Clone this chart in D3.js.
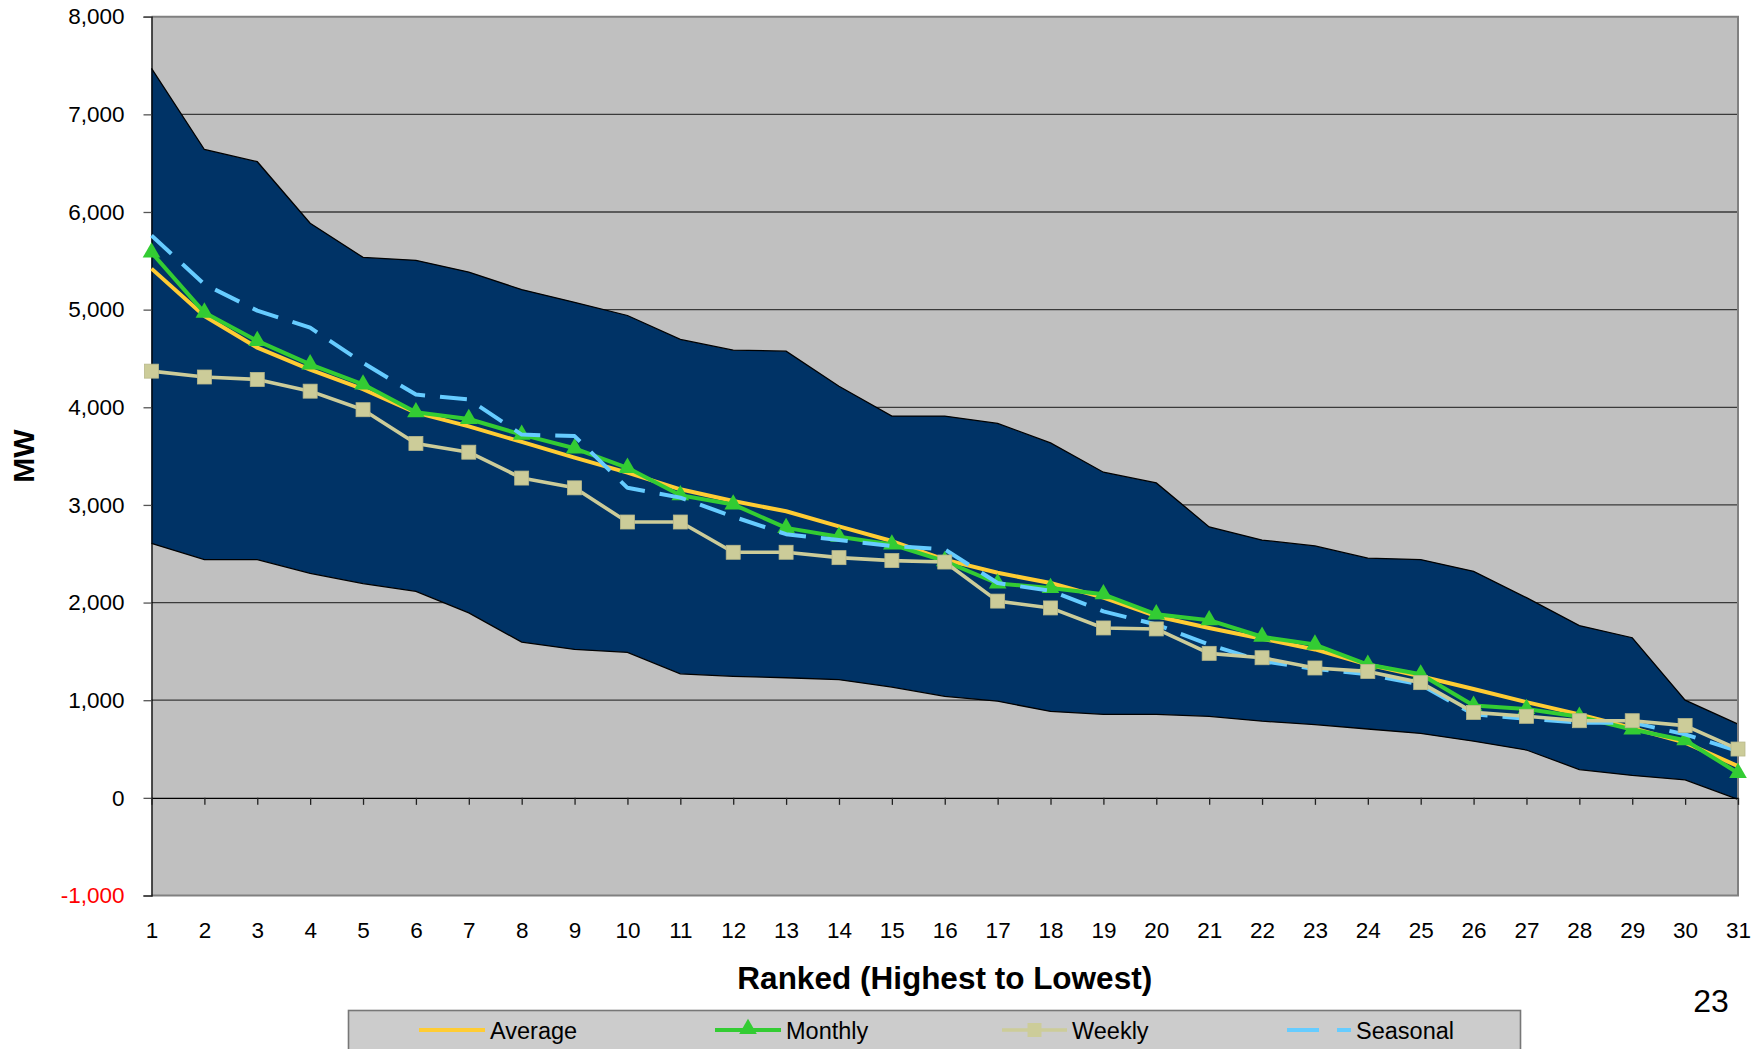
<!DOCTYPE html>
<html>
<head>
<meta charset="utf-8">
<script src="https://cdn.jsdelivr.net/npm/d3@7"></script>
<style>
  html, body { margin: 0; padding: 0; background: #ffffff; }
  svg { display: block; font-family: "Liberation Sans", Arial, sans-serif; }
</style>
</head>
<body>
<svg id="chart" width="1764" height="1049"></svg>
<script>
// Ranked daily values, highest to lowest (MW)
const ranks = [1,2,3,4,5,6,7,8,9,10,11,12,13,14,15,16,17,18,19,20,21,22,23,24,25,26,27,28,29,30,31];

// Envelope of the ranked values (upper and lower bound of the shaded band)
const upper = [7470, 6640, 6515, 5885, 5535, 5505, 5385, 5205, 5075, 4940, 4695, 4585, 4575, 4215, 3910, 3910,
               3835, 3635, 3335, 3225, 2775, 2640, 2580, 2455, 2440, 2320, 2050, 1765, 1640, 1000, 755];
const lower = [2605, 2440, 2440, 2300, 2195, 2115, 1895, 1595, 1520, 1490, 1270, 1245, 1230, 1210, 1135, 1040,
               990, 885, 855, 855, 835, 785, 750, 705, 660, 580, 490, 290, 230, 185, -15];

// Series
const average  = [5420, 4935, 4610, 4385, 4185, 3945, 3805, 3645, 3485, 3330, 3160, 3040, 2935, 2780, 2630, 2440,
                  2305, 2200, 2050, 1860, 1740, 1630, 1520, 1365, 1245, 1115, 980, 855, 715, 565, 325];
const monthly  = [5585, 4970, 4680, 4440, 4235, 3950, 3880, 3720, 3580, 3380, 3100, 3005, 2765, 2675, 2595, 2425,
                  2195, 2150, 2085, 1880, 1820, 1650, 1570, 1365, 1265, 945, 910, 830, 700, 590, 255];
const weekly   = [4370, 4310, 4285, 4165, 3975, 3630, 3540, 3275, 3175, 2825, 2825, 2515, 2515, 2460, 2430, 2415,
                  2015, 1945, 1740, 1730, 1480, 1435, 1330, 1295, 1180, 875, 835, 790, 790, 740, 500];
const seasonal = [5760, 5260, 4990, 4815, 4455, 4130, 4080, 3720, 3705, 3175, 3075, 2880, 2700, 2640, 2580, 2545,
                  2200, 2120, 1910, 1775, 1570, 1400, 1320, 1265, 1160, 855, 810, 770, 770, 650, 480];

const yTicks = [-1000, 0, 1000, 2000, 3000, 4000, 5000, 6000, 7000, 8000];
const seriesNames = ["Average", "Monthly", "Weekly", "Seasonal"];
const pageNumber = "23";

(function draw() {
  const svg = d3.select("#chart");
  const pLeft = 151.5, pRight = 1738, pTop = 16.7, pBottom = 895.5;

  const x = d3.scaleLinear().domain([1, 31]).range([pLeft, pRight]);
  const y = d3.scaleLinear().domain([-1000, 8000]).range([pBottom, pTop]);
  // thousands separator, plain hyphen for negatives
  const grouped = d3.format(",");
  const fmt = v => grouped(v).replace("\u2212", "-");

  // Plot background
  svg.append("rect")
    .attr("x", pLeft).attr("y", pTop)
    .attr("width", pRight - pLeft).attr("height", pBottom - pTop)
    .attr("fill", "#c0c0c0");

  // Horizontal gridlines
  svg.append("g").selectAll("line")
    .data(yTicks.filter(v => v > 0 && v < 8000))
    .join("line")
    .attr("x1", pLeft).attr("x2", pRight)
    .attr("y1", d => y(d)).attr("y2", d => y(d))
    .attr("stroke", "#3a3a3a").attr("stroke-width", 1.3);

  // Shaded band between lower and upper bound
  const band = ranks.map((r, i) => ({ r, lo: lower[i], hi: upper[i] }));
  svg.append("path")
    .datum(band)
    .attr("fill", "#003366")
    .attr("d", d3.area().x(d => x(d.r)).y0(d => y(d.lo)).y1(d => y(d.hi)));
  svg.append("path")
    .datum(band)
    .attr("fill", "none").attr("stroke", "#000").attr("stroke-width", 1.3)
    .attr("d", d3.line().x(d => x(d.r)).y(d => y(d.hi)));
  svg.append("path")
    .datum(band)
    .attr("fill", "none").attr("stroke", "#000").attr("stroke-width", 1.3)
    .attr("d", d3.line().x(d => x(d.r)).y(d => y(d.lo)));

  // Plot frame: top, right and bottom in grey
  svg.append("path")
    .attr("d", `M${pLeft},${y(8000)}H${pRight}V${y(-1000)}H${pLeft}`)
    .attr("fill", "none").attr("stroke", "#808080").attr("stroke-width", 2);

  // Y axis
  const yAxis = svg.append("g")
    .attr("transform", `translate(${pLeft},0)`)
    .call(d3.axisLeft(y).tickValues(yTicks).tickFormat(fmt).tickSize(8).tickPadding(19));
  yAxis.select(".domain").attr("stroke", "#000").attr("stroke-width", 1.3);
  yAxis.selectAll(".tick line").attr("stroke", "#555").attr("stroke-width", 1.3);
  yAxis.selectAll(".tick text")
    .attr("font-size", 22.5)
    .attr("font-family", "'Liberation Sans', Arial, sans-serif")
    .attr("fill", d => d < 0 ? "#ff0000" : "#000");

  // Zero line with category ticks
  const xAxis = svg.append("g")
    .attr("transform", `translate(0,${y(0)})`)
    .call(d3.axisBottom(x).tickValues(ranks).tickFormat("").tickSize(7).tickSizeOuter(0));
  xAxis.select(".domain").attr("stroke", "#000").attr("stroke-width", 1.3);
  xAxis.selectAll(".tick line").attr("stroke", "#222").attr("stroke-width", 1.3);

  // Category labels beneath the plot
  const xLabels = svg.append("g")
    .attr("transform", `translate(0,${pBottom})`)
    .call(d3.axisBottom(x).tickValues(ranks).tickFormat(d3.format("d")).tickSize(0).tickPadding(27));
  xLabels.select(".domain").remove();
  xLabels.selectAll(".tick text")
    .attr("font-size", 22.5)
    .attr("font-family", "'Liberation Sans', Arial, sans-serif")
    .attr("fill", "#000");

  // Axis titles
  svg.append("text")
    .attr("x", (pLeft + pRight) / 2).attr("y", 989)
    .attr("text-anchor", "middle")
    .attr("font-size", 31.5).attr("font-weight", "bold")
    .text("Ranked (Highest to Lowest)");
  svg.append("text")
    .attr("transform", `translate(34,${(pTop + pBottom) / 2}) rotate(-90)`)
    .attr("text-anchor", "middle")
    .attr("font-size", 30).attr("font-weight", "bold")
    .text("MW");

  // Series lines
  const lineGen = d3.line().x((d, i) => x(ranks[i])).y(d => y(d));

  const styles = {
    Average:  { data: average,  color: "#ffcc33", width: 4, dash: null },
    Monthly:  { data: monthly,  color: "#33cc33", width: 4, dash: null },
    Seasonal: { data: seasonal, color: "#66ccff", width: 4, dash: "27,15" },
    Weekly:   { data: weekly,   color: "#cccc99", width: 3.6, dash: null }
  };

  ["Average", "Monthly", "Seasonal", "Weekly"].forEach(name => {
    const s = styles[name];
    svg.append("path")
      .datum(s.data)
      .attr("fill", "none")
      .attr("stroke", s.color)
      .attr("stroke-width", s.width)
      .attr("stroke-linejoin", "round")
      .attr("stroke-dasharray", s.dash)
      .attr("d", lineGen);
    if (name === "Monthly") {
      svg.append("g").selectAll("path")
        .data(s.data)
        .join("path")
        .attr("transform", (d, i) => `translate(${x(ranks[i])},${y(d)})`)
        .attr("d", d3.symbol(d3.symbolTriangle, 135))
        .attr("fill", s.color);
    }
    if (name === "Weekly") {
      svg.append("g").selectAll("rect")
        .data(s.data)
        .join("rect")
        .attr("x", (d, i) => x(ranks[i]) - 7)
        .attr("y", d => y(d) - 7)
        .attr("width", 14).attr("height", 14)
        .attr("fill", s.color)
        .attr("stroke", "#b9b98a").attr("stroke-width", 0.8);
    }
  });

  // Legend
  const legend = svg.append("g");
  legend.append("rect")
    .attr("x", 348.5).attr("y", 1010.5)
    .attr("width", 1172).attr("height", 60)
    .attr("fill", "#cccccc")
    .attr("stroke", "#777").attr("stroke-width", 1.6);

  const legendItems = [
    { name: seriesNames[0], x0: 419,  x1: 485 },
    { name: seriesNames[1], x0: 715,  x1: 781 },
    { name: seriesNames[2], x0: 1002, x1: 1067 },
    { name: seriesNames[3], x0: 1287, x1: 1351 }
  ];
  const ly = 1030;
  legendItems.forEach(it => {
    const s = styles[it.name];
    legend.append("line")
      .attr("x1", it.x0).attr("x2", it.x1)
      .attr("y1", ly).attr("y2", ly)
      .attr("stroke", s.color).attr("stroke-width", s.width)
      .attr("stroke-dasharray", it.name === "Seasonal" ? "32,18" : null);
    const cx = (it.x0 + it.x1) / 2;
    if (it.name === "Monthly") {
      legend.append("path")
        .attr("transform", `translate(${cx},${ly - 1})`)
        .attr("d", d3.symbol(d3.symbolTriangle, 135)())
        .attr("fill", s.color);
    }
    if (it.name === "Weekly") {
      legend.append("rect")
        .attr("x", cx - 7).attr("y", ly - 7)
        .attr("width", 14).attr("height", 14)
        .attr("fill", s.color);
    }
    legend.append("text")
      .attr("x", it.x1 + 5).attr("y", ly + 8.5)
      .attr("font-size", 23.5)
      .attr("fill", "#000")
      .text(it.name);
  });

  // Page number
  svg.append("text")
    .attr("x", 1711).attr("y", 1012)
    .attr("text-anchor", "middle")
    .attr("font-size", 32)
    .attr("fill", "#000")
    .text(pageNumber);
})();
</script>
</body>
</html>
